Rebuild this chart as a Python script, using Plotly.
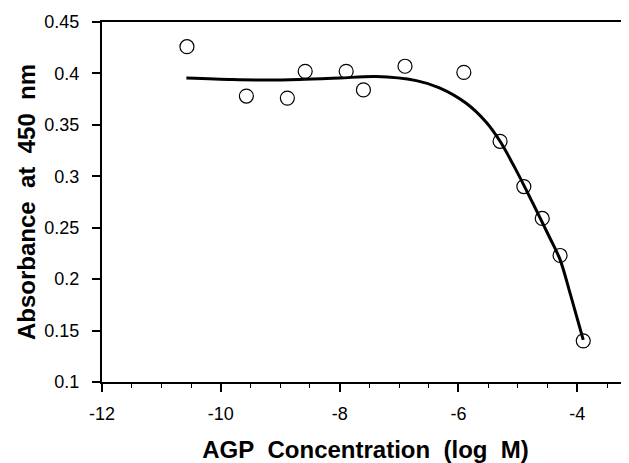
import plotly.graph_objects as go

log_conc = [-10.57, -9.57, -8.88, -8.58, -7.89, -7.60, -6.90, -5.91, -5.30, -4.90, -4.59, -4.29, -3.90]
absorb = [0.426, 0.378, 0.376, 0.402, 0.402, 0.384, 0.407, 0.401, 0.334, 0.290, 0.259, 0.223, 0.140]

# fitted curve
fit_x = [-10.58, -9.8, -9.24, -8.68, -8.0, -7.39, -6.71, -6.32, -5.87, -5.54, -5.30, -5.03, -4.75, -4.47, -4.29, -4.11, -3.90]
fit_y = [0.3955, 0.394, 0.3935, 0.394, 0.3955, 0.397, 0.393, 0.386, 0.371, 0.353, 0.334, 0.306, 0.274, 0.241, 0.219, 0.184, 0.141]

ytick_vals = [0.1, 0.15, 0.2, 0.25, 0.3, 0.35, 0.4, 0.45]
ytick_text = ["0.1", "0.15", "0.2", "0.25", "0.3", "0.35", "0.4", "0.45"]
xtick_vals = [-12, -10, -8, -6, -4]
xtick_text = ["-12", "-10", "-8", "-6", "-4"]

x_range = [-12, -3.13]
y_range = [0.1, 0.45]

fnt = "Liberation Sans, Arial, sans-serif"

fig = go.Figure()
fig.add_trace(go.Scatter(x=fit_x, y=fit_y, mode="lines",
                         line=dict(color="black", width=3, shape="spline", smoothing=0.9)))
# markers on the overlay axes, which also carry the x tick marks
fig.add_trace(go.Scatter(x=log_conc, y=absorb, mode="markers", xaxis="x2", yaxis="y2",
                         marker=dict(symbol="circle-open", size=14, color="black", line=dict(width=1.2))))

# page body has an 8px margin, so the figure is a bit smaller than the window
fig.update_layout(
    template="simple_white",
    width=621, height=455,
    margin=dict(l=94, r=0, t=14, b=81),
    paper_bgcolor="white", plot_bgcolor="white",
    showlegend=False,
    font=dict(family=fnt, color="black"),
    xaxis=dict(
        range=x_range, showgrid=False, zeroline=False,
        showline=True, linecolor="black", linewidth=2, mirror=True,
        tickmode="array", tickvals=xtick_vals, ticktext=xtick_text,
        ticks="outside", ticklen=8, tickwidth=2, tickcolor="black",
        tickfont=dict(size=18), ticklabelstandoff=6,
        title=dict(text="<b>AGP\u00a0\u00a0Concentration\u00a0\u00a0(log\u00a0\u00a0M)</b>", font=dict(size=24), standoff=20),
    ),
    yaxis=dict(
        range=y_range, showgrid=False, zeroline=False,
        showline=True, linecolor="black", linewidth=2,
        tickmode="array", tickvals=ytick_vals, ticktext=[t + "\u2002" for t in ytick_text],
        ticks="outside", ticklen=8, tickwidth=2, tickcolor="black",
        tickfont=dict(size=18),
        title=dict(text="<b>Absorbance\u00a0\u00a0at\u00a0\u00a0450\u00a0\u00a0nm</b>", font=dict(size=24), standoff=2),
    ),
    xaxis2=dict(
        overlaying="x", side="bottom", range=x_range, showgrid=False, zeroline=False,
        showline=False, showticklabels=False,
        tickmode="array", tickvals=xtick_vals,
        ticks="outside", ticklen=8, tickwidth=2, tickcolor="black",
        minor=dict(dtick=0.5, tick0=-12, ticks="outside", ticklen=5, tickcolor="black", tickwidth=1),
    ),
    yaxis2=dict(
        overlaying="y", side="left", range=y_range, showgrid=False, zeroline=False,
        showline=False, showticklabels=False, ticks="",
    ),
)

fig.write_html("out.html")
